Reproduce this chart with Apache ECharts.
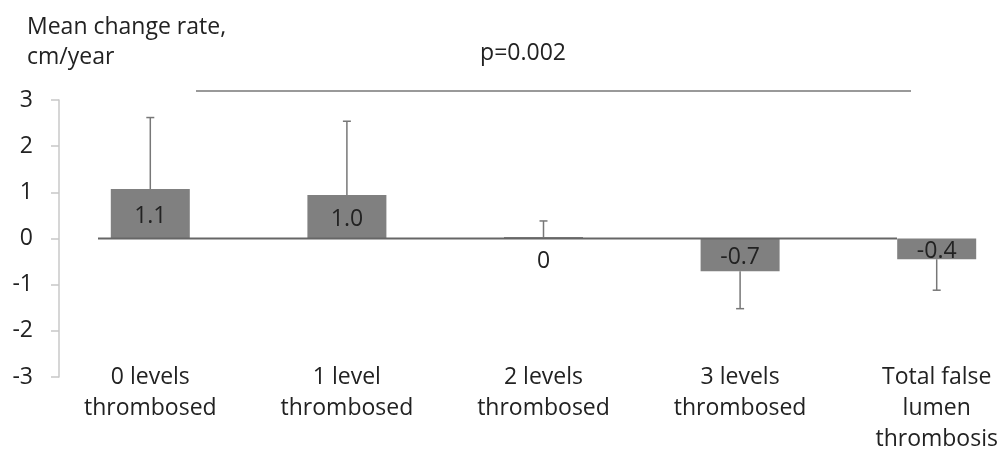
<!DOCTYPE html>
<html>
<head>
<meta charset="utf-8">
<script src="https://cdn.jsdelivr.net/npm/echarts@6/dist/echarts.min.js"></script>
<style>
  html, body { margin: 0; background: #fff; }
  #chart { width: 1003px; height: 453px; }
</style>
</head>
<body>
<div id="chart"></div>
<script>
const categories = [
  '0 levels\nthrombosed',
  '1 level\nthrombosed',
  '2 levels\nthrombosed',
  '3 levels\nthrombosed',
  'Total false\nlumen\nthrombosis'
]
const meanRates = [1.07, 0.94, 0.03, -0.71, -0.45]
const rateLabels = ['1.1', '1.0', '0', '-0.7', '-0.4']
// end of the one-sided error whisker for each bar
const errorEnds = [2.62, 2.54, 0.38, -1.52, -1.12]
const yMin = -3
const yMax = 3
const yStep = 1
const pValueText = 'p=0.002'

const FONT = '"Open Sans", sans-serif'
const TEXT = '#222'
const BAR = '#808080'

const chart = echarts.init(document.getElementById('chart'))

const barData = meanRates.map((v, i) => ({
  value: v,
  label: i === 2
    ? { position: 'bottom', distance: 11 }
    : { position: 'inside', offset: [0, 3] }
}))

const errorData = errorEnds.map((e, i) => [i, meanRates[i], e])

chart.setOption({
  animation: false,
  grid: { left: 52, width: 983, top: 100, bottom: 76, outerBoundsMode: 'none', containLabel: false },
  xAxis: {
    type: 'category',
    data: categories,
    offset: -15,
    axisLine: { show: false, onZero: false },
    axisTick: { show: false },
    axisLabel: {
      margin: 0,
      interval: 0,
      fontFamily: FONT,
      fontSize: 23,
      lineHeight: 31,
      color: TEXT
    }
  },
  yAxis: {
    type: 'value',
    min: yMin,
    max: yMax,
    interval: yStep,
    offset: -7,
    axisLine: { show: true, lineStyle: { color: '#c8c8c8', width: 1.5 } },
    axisTick: { show: true, length: 8, lineStyle: { color: '#c8c8c8', width: 1.5 } },
    splitLine: { show: false },
    axisLabel: {
      margin: 26,
      padding: [8, 0, 0, 0],
      fontFamily: FONT,
      fontSize: 23,
      color: TEXT
    }
  },
  series: [
    {
      type: 'bar',
      data: barData,
      barWidth: 79,
      itemStyle: { color: BAR },
      label: {
        show: true,
        formatter: p => rateLabels[p.dataIndex],
        fontFamily: FONT,
        fontSize: 23,
        color: TEXT
      },
      z: 2
    },
    {
      type: 'custom',
      data: errorData,
      encode: { x: 0, y: [1, 2] },
      z: 3,
      renderItem: (params, api) => {
        const from = api.coord([api.value(0), api.value(1)])
        const to = api.coord([api.value(0), api.value(2)])
        const style = { stroke: '#777', lineWidth: 1.5 }
        return {
          type: 'group',
          children: [
            { type: 'line', shape: { x1: from[0], y1: from[1], x2: to[0], y2: to[1] }, style },
            { type: 'line', shape: { x1: to[0] - 4, y1: to[1], x2: to[0] + 4, y2: to[1] }, style }
          ]
        }
      }
    }
  ]
})

const y0 = chart.convertToPixel({ yAxisIndex: 0 }, 0)

chart.setOption({
  graphic: [
    {
      type: 'text',
      left: 27,
      top: 12,
      style: {
        text: 'Mean change rate,\ncm/year',
        font: '23px ' + FONT,
        fill: TEXT,
        lineHeight: 30
      }
    },
    {
      type: 'text',
      x: 523,
      y: 53,
      style: {
        text: pValueText,
        font: '23px ' + FONT,
        fill: TEXT,
        align: 'center',
        verticalAlign: 'middle'
      }
    },
    {
      type: 'line',
      shape: { x1: 196, y1: 91, x2: 911, y2: 91 },
      style: { stroke: '#999', lineWidth: 2 }
    },
    {
      type: 'line',
      z: 10,
      shape: { x1: 98, y1: y0, x2: 897, y2: y0 },
      style: { stroke: '#666', lineWidth: 2 }
    }
  ]
})

window.addEventListener('resize', () => chart.resize())
</script>
</body>
</html>
